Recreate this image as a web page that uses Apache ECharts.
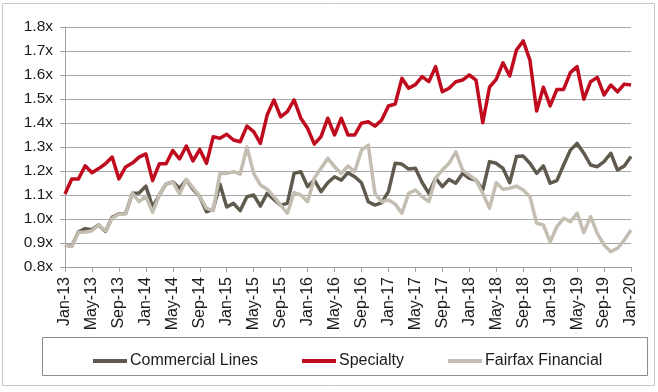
<!DOCTYPE html>
<html><head><meta charset="utf-8">
<script src="https://cdn.jsdelivr.net/npm/echarts@6/dist/echarts.min.js"></script>
<style>html,body{margin:0;padding:0;background:#fff}#c{width:658px;height:392px}</style>
</head><body><div id="c"></div>
<script>
var monthNames = ['Jan','Feb','Mar','Apr','May','Jun','Jul','Aug','Sep','Oct','Nov','Dec'];
var years = ['13','14','15','16','17','18','19','20'];
var categories = [];
years.forEach(function(y){ monthNames.forEach(function(m){ if (categories.length < 85) categories.push(m + '-' + y); }); });

var commercialLines = [0.892,0.887,0.947,0.960,0.955,0.975,0.948,1.007,1.022,1.023,1.107,1.108,1.137,1.050,1.100,1.146,1.155,1.128,1.163,1.124,1.093,1.030,1.042,1.145,1.050,1.065,1.035,1.093,1.100,1.054,1.107,1.082,1.058,1.065,1.190,1.197,1.135,1.162,1.114,1.151,1.176,1.162,1.193,1.176,1.151,1.072,1.058,1.068,1.114,1.232,1.229,1.208,1.211,1.152,1.107,1.170,1.135,1.165,1.149,1.190,1.170,1.162,1.121,1.239,1.232,1.211,1.151,1.260,1.262,1.232,1.190,1.221,1.149,1.160,1.225,1.287,1.315,1.274,1.225,1.218,1.239,1.274,1.204,1.221,1.260];
var specialty = [1.104,1.167,1.167,1.222,1.193,1.210,1.230,1.258,1.167,1.217,1.233,1.258,1.271,1.160,1.230,1.230,1.285,1.250,1.304,1.242,1.290,1.232,1.343,1.336,1.353,1.329,1.322,1.387,1.364,1.315,1.433,1.496,1.426,1.447,1.496,1.420,1.378,1.312,1.343,1.420,1.350,1.420,1.350,1.350,1.399,1.405,1.387,1.412,1.471,1.479,1.586,1.545,1.560,1.593,1.572,1.635,1.530,1.545,1.572,1.579,1.600,1.579,1.401,1.549,1.582,1.651,1.596,1.704,1.742,1.662,1.450,1.549,1.471,1.540,1.540,1.610,1.635,1.499,1.572,1.590,1.517,1.558,1.530,1.562,1.558];
var fairfaxFinancial = [0.892,0.885,0.945,0.945,0.951,0.975,0.950,1.003,1.021,1.022,1.107,1.072,1.095,1.028,1.100,1.146,1.155,1.104,1.165,1.130,1.093,1.044,1.035,1.190,1.190,1.197,1.187,1.300,1.190,1.142,1.124,1.093,1.058,1.024,1.110,1.100,1.072,1.170,1.211,1.253,1.218,1.190,1.221,1.197,1.287,1.308,1.107,1.072,1.079,1.062,1.024,1.107,1.121,1.093,1.072,1.170,1.204,1.232,1.280,1.204,1.183,1.162,1.107,1.045,1.151,1.124,1.128,1.137,1.121,1.093,0.982,0.975,0.905,0.968,1.003,0.989,1.024,0.943,1.010,0.940,0.892,0.864,0.878,0.912,0.954];

var seriesNames = ['Commercial Lines','Specialty','Fairfax Financial'];
var seriesColors = ['#5f5a4d','#c00b1f','#c4bdb1'];
var seriesData = [commercialLines, specialty, fairfaxFinancial];

var FONT = '"Liberation Sans", Arial, sans-serif';
var chart = echarts.init(document.getElementById('c'), null, {renderer:'canvas'});
chart.setOption({
  animation: false,
  backgroundColor: '#fff',
  grid: {left: 65, right: 27, top: 27, bottom: 125, containLabel: false},
  xAxis: {
    type: 'category', data: categories, boundaryGap: false,
    axisLine: {lineStyle: {color: '#a0a0a0', width: 1}},
    axisTick: {show: true, interval: 3, length: 5, lineStyle: {color: '#a0a0a0'}},
    axisLabel: {interval: 3, rotate: 90, margin: 10, fontSize: 16, color: '#1a1a1a', fontFamily: FONT},
    splitLine: {show: false}
  },
  yAxis: {
    type: 'value', min: 0.8, max: 1.8, interval: 0.1,
    axisLine: {show: true, lineStyle: {color: '#a0a0a0', width: 1}},
    axisTick: {show: true, length: 5, lineStyle: {color: '#a0a0a0'}},
    axisLabel: {margin: 12, fontSize: 15.5, color: '#1a1a1a', fontFamily: FONT,
      formatter: function(v){ return v.toFixed(1) + 'x'; }},
    splitLine: {show: true, lineStyle: {color: '#a6a6a6', width: 1}}
  },
  legend: {
    left: 88, top: 348, itemWidth: 34, itemHeight: 4, itemGap: 44,
    icon: 'rect',
    textStyle: {fontSize: 16, color: '#1a1a1a', fontFamily: FONT, padding: [0,0,0,-2]},
    data: seriesNames
  },
  graphic: [
    {type: 'rect', silent: true, z: -1, shape: {x: 2.5, y: 3.5, width: 652, height: 382},
     style: {fill: 'none', stroke: '#c8c8c8', lineWidth: 1}},
    {type: 'rect', silent: true, z: -1, shape: {x: 42.5, y: 337.5, width: 605, height: 38},
     style: {fill: 'none', stroke: '#8c8c8c', lineWidth: 1}}
  ],
  series: seriesNames.map(function(n, i){
    return {
      name: n, type: 'line', data: seriesData[i], symbol: 'none', smooth: false,
      lineStyle: {color: seriesColors[i], width: 3.5, join: 'round'},
      itemStyle: {color: seriesColors[i]}
    };
  })
});
</script></body></html>
